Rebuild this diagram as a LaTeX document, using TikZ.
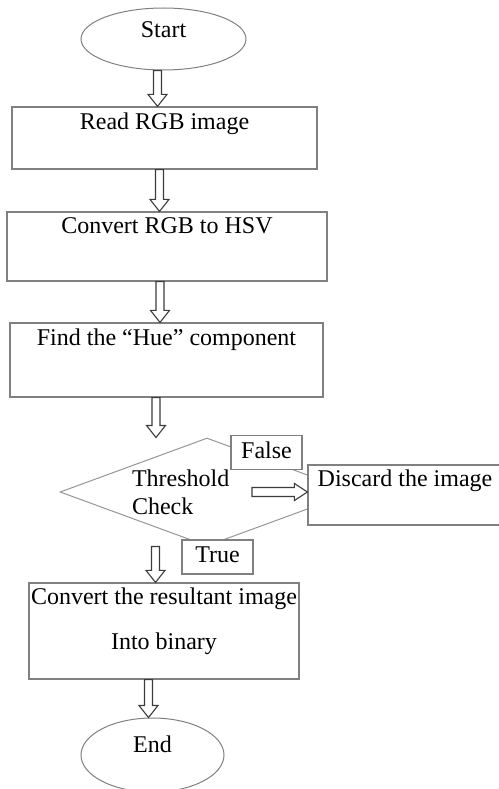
\documentclass[tikz,border=0pt]{standalone}
\usepackage{fontspec}
\setmainfont{Liberation Serif}
\usetikzlibrary{shapes.geometric,calc}

\definecolor{framegray}{RGB}{128,128,128}
\definecolor{diagray}{RGB}{150,150,150}
\definecolor{arrowgray}{RGB}{60,60,60}

% hollow block arrows, x taken from the start, tip on the target
\newcommand\hollowdown[2]{%
  \draw[blockarrow] let \p1=(#1), \p2=(#2) in
    (\x1-4pt,\y1) -- (\x1-4pt,\y2+12pt) -- (\x1-9.5pt,\y2+12pt) -- (\x1,\y2)
    -- (\x1+9.5pt,\y2+12pt) -- (\x1+4pt,\y2+12pt) -- (\x1+4pt,\y1) -- cycle;}
\newcommand\hollowright[2]{%
  \draw[blockarrow] let \p1=(#1), \p2=(#2) in
    (\x1,\y1+4.5pt) -- (\x2-13pt,\y1+4.5pt) -- (\x2-13pt,\y1+8.5pt) -- (\x2,\y1)
    -- (\x2-13pt,\y1-8.5pt) -- (\x2-13pt,\y1-4.5pt) -- (\x1,\y1-4.5pt) -- cycle;}

\begin{document}
\begin{tikzpicture}[x=1pt, y=-1pt,
  every node/.style={font=\fontsize{24}{28}\selectfont},
  stepbox/.style={draw=framegray, line width=1.2pt, fill=white, inner sep=0pt},
  terminal/.style={ellipse, draw=framegray, line width=1pt, inner sep=0pt, text height=16pt},
  tag/.style={stepbox, minimum width=71pt, minimum height=34pt, text height=16pt, text depth=5pt},
  blockarrow/.style={draw=arrowgray, line width=1.1pt, fill=white, line join=miter}]
  \useasboundingbox (0,0) rectangle (498,789);

  \node[terminal, minimum width=165pt, minimum height=62pt, text depth=18pt] (start) at (163.5,39) {Start};
  \node[stepbox, minimum width=305pt, text height=22pt, text depth=40pt] (read) at (164.5,138) {Read RGB image};
  \node[stepbox, minimum width=320pt, text height=21pt, text depth=48pt] (hsv) at (167,246.5) {Convert RGB to HSV};
  \node[stepbox, minimum width=313pt, text height=22pt, text depth=52pt] (hue) at (166.5,360) {Find the “Hue” component};
  \node[diamond, draw=diagray, line width=1pt, inner sep=0pt, aspect=2.72, minimum width=294pt,
        minimum height=108pt, text width=150pt, align=left] (check) at (207,492) {Threshold\\Check};
  \node[tag] (falsetag) at (266.5,452.5) {False};
  \node[stepbox, minimum width=194pt, text height=21pt, text depth=39pt] (discard) at (405,495) {Discard the image};
  \node[tag] (truetag) at (217.5,557) {True};
  \node[stepbox, minimum width=270pt, text height=21pt, text depth=75pt] (binary) at (164,631)
    {\begin{tabular}[t]{@{}c@{}}Convert the resultant image\\[17pt]Into binary\end{tabular}};
  \node[terminal, minimum width=143pt, minimum height=74pt, text depth=22pt] (finish) at (152.5,755) {End};

  \hollowdown{[xshift=-6pt]start.south}{read.north}
  \hollowdown{[xshift=-5pt]read.south}{hsv.north}
  \hollowdown{[xshift=-7pt]hsv.south}{hue.north}
  \hollowdown{[xshift=-10.5pt]hue.south}{check.north}
  \hollowright{[xshift=45pt]check.center}{discard.west}
  \hollowdown{[xshift=-51.5pt]check.south}{binary.north}
  \hollowdown{[xshift=-15.5pt]binary.south}{finish.north}
\end{tikzpicture}
\end{document}
